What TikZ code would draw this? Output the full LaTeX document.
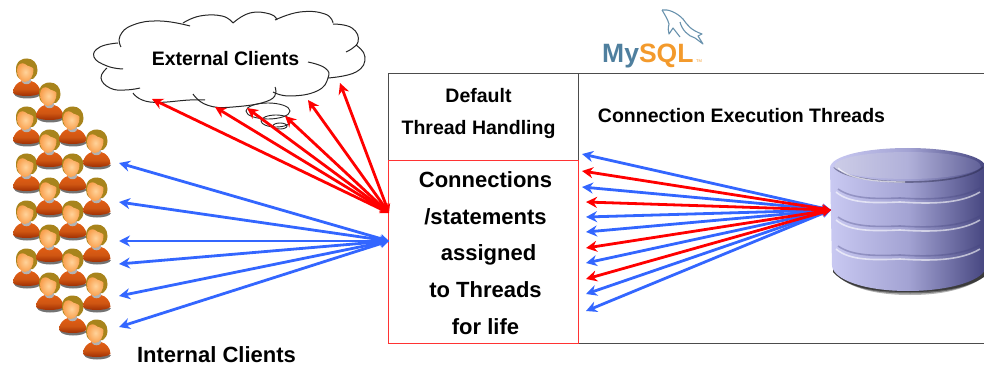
\documentclass[tikz,border=0pt]{standalone}
\usepackage{fontspec}
\setmainfont{Liberation Sans}
\usetikzlibrary{arrows.meta,shapes.geometric}
\definecolor{arrowblue}{HTML}{3366FF}
\definecolor{arrowred}{HTML}{FF0000}
\definecolor{mysqlblue}{HTML}{4F7F9E}
\definecolor{mysqlorange}{HTML}{F39A2C}
\definecolor{dbleft}{HTML}{C9C9F2}
\definecolor{dbmid}{HTML}{A3A3D3}
\definecolor{dbright}{HTML}{45457F}
\definecolor{hair}{HTML}{A8841C}
\definecolor{skinin}{HTML}{FFD39A}
\definecolor{skinout}{HTML}{F9A04E}
\definecolor{shirttop}{HTML}{E25E14}
\definecolor{shirtbot}{HTML}{982A02}
\newcommand{\bfsize}[1]{\fontsize{#1}{#1}\selectfont\bfseries}
\tikzset{
  blueline/.style={draw=arrowblue,line width=2.8pt,{Stealth[length=9pt,width=9pt]}-{Stealth[length=11pt,width=11pt]}},
  redline/.style={draw=arrowred,line width=2.8pt,{Stealth[length=9pt,width=9pt]}-{Stealth[length=11pt,width=11pt]}},
  label/.style={inner sep=0pt,anchor=base,font=\bfsize{19.5}},
  celltext/.style={inner sep=0pt,anchor=base,font=\bfsize{22}},
  cloudline/.style={draw=black!85,line width=1pt},
  bubble/.style={draw=black!85,line width=.9pt,ellipse,inner sep=0pt},
  person/.pic={
    \fill[black!55] (-13,-3) .. controls (-12,0) and (-6,1.5) .. (0,1.5) .. controls (7,1.5) and (13,0) .. (14,-3) -- cycle;
    \shade[top color=shirttop,bottom color=shirtbot,middle color=shirttop!92!black]
      (-14,-4) .. controls (-14,-11) and (-9,-15) .. (-5,-16) .. controls (-3,-12) and (2,-12) .. (4,-16)
      .. controls (9,-15) and (13.5,-10) .. (13.5,-4) .. controls (9,0) and (-10,0) .. (-14,-4) -- cycle;
    \fill[black!30] (-6,-18) -- (-5,-15) .. controls (-3,-12) and (2,-12) .. (4,-15) -- (4,-18) -- cycle;
    \fill[hair] (-11,-26) .. controls (-12,-36) and (-4,-39) .. (0,-38.5) .. controls (6,-38.5) and (10.5,-34) .. (10.5,-27)
      .. controls (10.5,-22) and (8,-20) .. (6,-18) -- (-7,-18) .. controls (-10,-20) and (-11,-23) .. (-11,-26) -- cycle;
    \shade[inner color=skinin,outer color=skinout] (-10,-27) .. controls (-10,-33) and (-5,-35) .. (-2,-33)
      .. controls (1,-30) and (5,-31) .. (6.5,-28) .. controls (7,-22) and (3,-15) .. (-2,-15)
      .. controls (-7,-15) and (-10,-21) .. (-10,-27) -- cycle;
  },
}
\begin{document}
\begin{tikzpicture}[x=1pt,y=-1pt]
\useasboundingbox (0,0) rectangle (984,366);

% people
\foreach \px/\py in {27/97,27/145,27/192,27/239,27/287,
                     50/121,50/168,50/216,50/263,50/311,
                     73/145,73/192,73/239,73/287,73/334,
                     97/168,97/216,97/263,97/311,97/358}
  \pic[y=-1pt,x=1pt] at (\px,\py) {person};

% cloud
\fill[white] plot[smooth cycle,tension=.6] coordinates {(103,56)(120,33)(190,20)(233,22)(277,13)(303,19)(340,13)(333,22)(357,30)(363,57)(328,78)(290,96)(233,107)(180,100)(133,90)(102,78)};
\draw[cloudline] plot[smooth,tension=.8] coordinates {(123,69)(107,66)(94,57)(100,47)(118,43)};
\draw[cloudline] plot[smooth,tension=.8] coordinates {(121,47)(120,36)(133,25)(160,21)(190,26)};
\draw[cloudline] plot[smooth,tension=.8] coordinates {(183,23)(200,16)(222,16)(233,23)};
\draw[cloudline] plot[smooth,tension=.8] coordinates {(233,23)(250,13)(270,14)(277,20)};
\draw[cloudline] plot[smooth,tension=.8] coordinates {(275,20)(300,12)(325,14)(333,23)};
\draw[cloudline] plot[smooth,tension=.8] coordinates {(333,24)(352,28)(358,42)(346,52)};
\draw[cloudline] plot[smooth,tension=.8] coordinates {(356,45)(365,57)(356,72)(328,78)};
\draw[cloudline] plot[smooth,tension=.8] coordinates {(308,62)(325,68)(328,78)(317,91)(290,96)(273,92)};
\draw[cloudline] plot[smooth,tension=.8] coordinates {(275,87)(270,100)(233,107)(207,105)(193,94)};
\draw[cloudline] plot[smooth,tension=.8] coordinates {(205,100)(190,100)(150,102)(133,93)};
\draw[cloudline] plot[smooth,tension=.8] coordinates {(140,88)(125,90)(110,88)(101,78)(107,68)};
\node[label] (ext) at (225.5,66) {External Clients};
\node[bubble,minimum width=44pt,minimum height=16pt] (bubbleA) at (268,111) {};
\node[bubble,minimum width=30pt,minimum height=12pt] (bubbleB) at (276,121) {};
\node[bubble,minimum width=14pt,minimum height=6pt] (bubbleC) at (280,126) {};

% table
\draw[black!70,line width=1pt] (388,161) -- (388,74) -- (984,74);
\draw[black!70,line width=1pt] (578,74) -- (578,161);
\draw[black!70,line width=1pt] (578,343) -- (984,343);
\draw[arrowred!80!white,line width=1pt] (388,161) -- (578,161) -- (578,343) -- (388,343) -- cycle;
\node[label] (default) at (478.5,103) {Default};
\node[label] (handling) at (478.5,135) {Thread Handling};
\node[label] (exec) at (741.5,123) {Connection Execution Threads};
\node[celltext] (c1) at (485.5,187) {Connections};
\node[celltext] (c2) at (485.5,224) {/statements};
\node[celltext] (c3) at (488.5,260) {assigned};
\node[celltext] (c4) at (485.5,297) {to Threads};
\node[celltext] (c5) at (485.5,334) {for life};
\node[celltext] (internal) at (216.5,362) {Internal Clients};

% database
\begin{scope}
\clip (820,140) rectangle (984,300);
\foreach \o/\g in {.35/0,.5/1.5,.7/3}
  \fill[black!85,opacity=\o] (833,250) -- (833,272) .. controls (850,290) and (880,295-\g) .. (910,295-\g)
     .. controls (950,295-\g) and (975,286) .. (990,272) -- (990,250) -- cycle;
\shade[left color=dbleft,right color=dbright,middle color=dbmid]
  (830,168) .. controls (830,156) and (865,148) .. (908,148) .. controls (950,148) and (986,156) .. (986,168)
  -- (986,266) .. controls (986,280) and (950,291) .. (908,291) .. controls (865,291) and (834,280) .. (832,266) -- cycle;
\draw[black!45!dbright,opacity=.45,line width=1.6pt] (834,167) .. controls (850,187) and (965,187) .. (983,167);
\shade[left color=dbmid!55!white,right color=dbright!70!dbmid,middle color=dbmid!85!white]
  (834,167) .. controls (834,157) and (870,152) .. (908,152) .. controls (946,152) and (981,157) .. (981,167)
  .. controls (965,183) and (850,183) .. (834,167) -- cycle;
\draw[white,opacity=.65,line width=1.3pt] (838,168) .. controls (850,180) and (880,182) .. (905,182);
\foreach \dy in {0,28,57}{
  \draw[dbright,opacity=.35,line width=1.6pt] (838,\dy+189) .. controls (852,\dy+199) and (875,\dy+199) .. (900,\dy+198)
     .. controls (930,\dy+200) and (960,\dy+199) .. (980,\dy+188);
  \draw[white,opacity=.6,line width=1.6pt] (836,\dy+192) .. controls (850,\dy+204) and (875,\dy+203) .. (900,\dy+202)
     .. controls (930,\dy+204) and (960,\dy+204) .. (980,\dy+192);
}
\end{scope}
\coordinate (dbhub) at (831,210);
\coordinate (lefthub) at (389,241);
\coordinate (redhub) at (389,213);

% client arrows
\foreach \n/\tx/\ty in {a/119/163,b/119/202,c/119/241,d/119/264,e/119/296,f/119/327}{
  \coordinate (int\n) at (\tx,\ty);
  \draw[blueline] (lefthub) -- (int\n);
}
\foreach \n/\tx/\ty in {a/152/99,b/215/107,c/247/108,d/285/116,e/308/100,f/340/83}{
  \coordinate (ex\n) at (\tx,\ty);
  \draw[redline] (redhub) -- (ex\n);
}

% thread arrows
\foreach \n/\tx/\ty/\st in {a/582/154/blueline,c/582/187/blueline,e/586/217/blueline,f/586/232/blueline,
   h/586/263/blueline,j/586/294/blueline,k/586/311/blueline,
   b/582/171/redline,d/586/202/redline,g/586/248/redline,i/586/279/redline}{
  \coordinate (th\n) at (\tx,\ty);
  \draw[\st] (dbhub) -- (th\n);
}

% logo
\node[inner sep=0pt,anchor=base west,font=\bfsize{26.5}] (logo) at (602,63)
  {\textcolor{mysqlblue}{My}\textcolor{mysqlorange}{SQL}};
\node[inner sep=0pt,anchor=base west,font=\fontsize{4}{4}\selectfont,text=mysqlorange] (tm) at (696,63) {TM};
\draw[mysqlblue!85!white,line width=1.1pt,line join=round] (662,10) .. controls (668,9) and (676,12) .. (683,19)
  .. controls (688,26) and (691,30) .. (702,34) -- (698,36) -- (703,44) -- (695,38) .. controls (688,36) and (682,30) .. (680,22);
\draw[mysqlblue!85!white,line width=1.1pt,line join=round] (662,10) .. controls (665,15) and (668,20) .. (669,24)
  .. controls (668,28) and (668,31) .. (669,34) -- (673,28) -- (680,37);
\end{tikzpicture}
\end{document}
